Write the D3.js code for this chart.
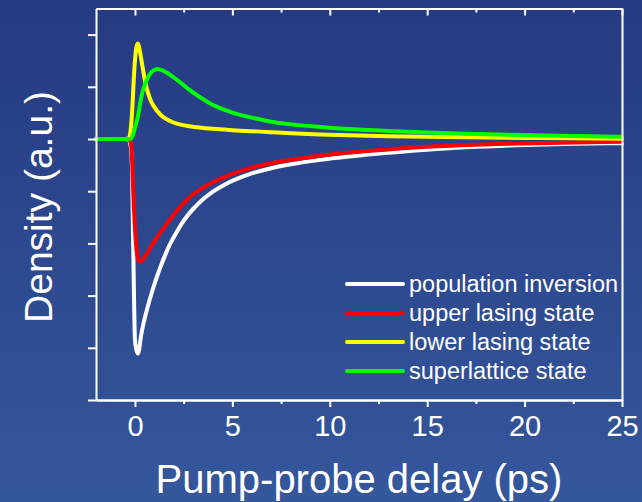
<!DOCTYPE html>
<html>
<head>
<meta charset="utf-8">
<script src="https://cdn.jsdelivr.net/npm/d3@7"></script>
<style>
  html, body { margin: 0; padding: 0; background: #2d4890; }
  svg { display: block; }
  text { font-family: "Liberation Sans", Arial, sans-serif; fill: #ffffff; }
</style>
</head>
<body>
<svg id="chart" width="642" height="502"></svg>
<script>
// Pump-probe delay (ps)
const delay = [-2, -0.5, -0.3, -0.2, -0.15, -0.1, -0.05, 0, 0.05, 0.1, 0.15, 0.2, 0.3, 0.4, 0.55, 0.7, 0.85, 1, 1.15, 1.3,
  1.55, 1.8, 2.1, 2.4, 2.8, 3.3, 4, 4.6, 5.2, 6, 7, 8, 9.5, 11, 13, 15, 17, 20, 22.5, 25];

// Densities (a.u.)
const populationInversion = [0, 0, -0.02, -0.2, -0.6, -1.8, -3.0, -3.85, -4.0, -4.08, -4.11, -4.06, -3.8, -3.6, -3.36, -3.15, -2.96, -2.78, -2.615, -2.46,
  -2.225, -2.015, -1.81, -1.62, -1.42, -1.22, -1.01, -0.875, -0.77, -0.66, -0.56, -0.485, -0.4, -0.335, -0.265, -0.205, -0.16, -0.115, -0.093, -0.08];
const upperLasing = [0, 0, -0.01, -0.1, -0.4, -0.9, -1.35, -1.7, -2.0, -2.18, -2.28, -2.33, -2.35, -2.31, -2.23, -2.14, -2.05, -1.96, -1.875, -1.795,
  -1.67, -1.545, -1.4, -1.27, -1.12, -0.98, -0.83, -0.73, -0.645, -0.55, -0.465, -0.4, -0.32, -0.26, -0.2, -0.15, -0.115, -0.085, -0.068, -0.055];
const lowerLasing = [0, 0, 0.02, 0.25, 0.49, 0.85, 1.22, 1.5, 1.7, 1.8, 1.83, 1.78, 1.58, 1.36, 1.05, 0.85, 0.7, 0.61, 0.53, 0.47,
  0.395, 0.345, 0.3, 0.27, 0.245, 0.22, 0.195, 0.18, 0.165, 0.15, 0.13, 0.11, 0.085, 0.07, 0.055, 0.045, 0.035, 0.02, 0.012, 0.005];
const superlattice = [0, 0, 0, 0.01, 0.04, 0.08, 0.14, 0.22, 0.28, 0.35, 0.43, 0.53, 0.75, 0.92, 1.08, 1.2, 1.28, 1.32, 1.34, 1.33,
  1.29, 1.23, 1.15, 1.06, 0.94, 0.81, 0.65, 0.56, 0.48, 0.41, 0.33, 0.28, 0.23, 0.19, 0.155, 0.125, 0.1, 0.075, 0.058, 0.045];

const seriesNames = ["population inversion", "upper lasing state", "lower lasing state", "superlattice state"];
const seriesColors = ["#ffffff", "#ff0000", "#ffff00", "#00ff00"];
const seriesValues = [populationInversion, upperLasing, lowerLasing, superlattice];

const xMajorTicks = [0, 5, 10, 15, 20, 25];
const xMinorTicks = [2.5, 7.5, 12.5, 17.5, 22.5];
const yTicks = [-5, -4, -3, -2, -1, 0, 1, 2];

const W = 642, H = 502;
const plot = { left: 96, right: 622, top: 8.5, bottom: 400 };

const svg = d3.select("#chart");

// background gradient
const defs = svg.append("defs");
const grad = defs.append("linearGradient").attr("id", "bg").attr("x1", 0).attr("y1", 0).attr("x2", 0).attr("y2", 1);
grad.append("stop").attr("offset", "0%").attr("stop-color", "#253a83");
grad.append("stop").attr("offset", "100%").attr("stop-color", "#35579c");
svg.append("rect").attr("width", W).attr("height", H).attr("fill", "url(#bg)");

const x = d3.scaleLinear().domain([-2, 25]).range([plot.left, plot.right]);
const y = d3.scaleLinear().domain([-5, 2.5]).range([plot.bottom, plot.top]);

// curves
const line = d3.line()
  .x(d => x(d[0]))
  .y(d => y(d[1]))
  .curve(d3.curveMonotoneX);

const curves = svg.append("g").attr("class", "curves");
seriesValues.forEach((vals, i) => {
  curves.append("path")
    .datum(delay.map((t, k) => [t, vals[k]]))
    .attr("d", line)
    .attr("fill", "none")
    .attr("stroke", seriesColors[i])
    .attr("stroke-width", 4)
    .attr("stroke-linejoin", "round")
    .attr("stroke-linecap", "round");
});

// axes
function styleAxis(g) {
  g.selectAll("path.domain").attr("stroke", "#ffffff").attr("stroke-width", 2);
  g.selectAll(".tick line").attr("stroke", "#ffffff").attr("stroke-width", 2);
  g.selectAll(".tick text").attr("fill", "#ffffff")
    .style("font-family", '"Liberation Sans", Arial, sans-serif')
    .style("font-size", "29px");
}

svg.append("g")
  .attr("transform", `translate(0,${plot.bottom})`)
  .call(d3.axisBottom(x).tickValues(xMinorTicks).tickSize(4).tickSizeOuter(0).tickFormat(""))
  .call(styleAxis);
svg.append("g")
  .attr("transform", `translate(0,${plot.bottom})`)
  .call(d3.axisBottom(x).tickValues(xMajorTicks).tickSize(7).tickSizeOuter(0).tickPadding(8).tickFormat(d3.format("d")))
  .call(styleAxis);

svg.append("g")
  .attr("transform", `translate(0,${plot.top})`)
  .call(d3.axisTop(x).tickValues(xMinorTicks).tickSize(-4).tickSizeOuter(0).tickFormat(""))
  .call(styleAxis);
svg.append("g")
  .attr("transform", `translate(0,${plot.top})`)
  .call(d3.axisTop(x).tickValues(xMajorTicks).tickSize(-7).tickSizeOuter(0).tickFormat(""))
  .call(styleAxis);

svg.append("g")
  .attr("transform", `translate(${plot.left},0)`)
  .call(d3.axisLeft(y).tickValues(yTicks).tickSize(8).tickSizeOuter(0).tickFormat(""))
  .call(styleAxis);
svg.append("g")
  .attr("transform", `translate(${plot.right},0)`)
  .call(d3.axisRight(y).tickValues([]).tickSizeOuter(0))
  .call(styleAxis);

// axis titles
svg.append("text")
  .attr("x", (plot.left + plot.right) / 2)
  .attr("y", 493)
  .attr("text-anchor", "middle")
  .style("font-size", "40px")
  .text("Pump-probe delay (ps)");

svg.append("text")
  .attr("transform", "translate(52,207) rotate(-90)")
  .attr("text-anchor", "middle")
  .style("font-size", "39px")
  .text("Density (a.u.)");

// legend
const legend = svg.append("g").attr("transform", "translate(347,284)");
seriesNames.forEach((name, i) => {
  const row = legend.append("g").attr("transform", `translate(0,${i * 29})`);
  row.append("line")
    .attr("x1", 0).attr("x2", 56)
    .attr("stroke", seriesColors[i])
    .attr("stroke-width", 4)
    .attr("stroke-linecap", "round");
  row.append("text")
    .attr("x", 62)
    .attr("dy", "0.35em")
    .style("font-size", "23.5px")
    .text(name);
});
</script>
</body>
</html>
